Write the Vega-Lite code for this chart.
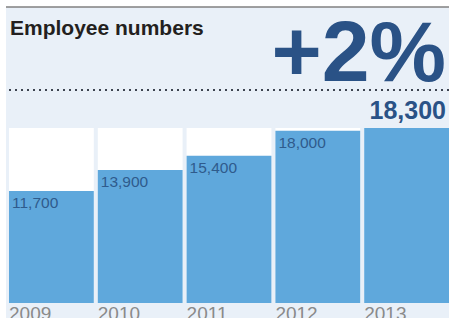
{
  "$schema": "https://vega.github.io/schema/vega-lite/v6.json",
  "width": 443,
  "height": 311,
  "autosize": "none",
  "padding": {"left": 6, "top": 7, "right": 0, "bottom": 0},
  "background": "white",
  "config": {"view": {"fill": "#e9f0f8", "stroke": null}, "font": "Liberation Sans"},
  "data": {"values": [
    {"year": "2009", "employees": 11700},
    {"year": "2010", "employees": 13900},
    {"year": "2011", "employees": 15400},
    {"year": "2012", "employees": 18000},
    {"year": "2013", "employees": 18300}
  ]},
  "layer": [
    {
      "transform": [{"joinaggregate": [{"op": "max", "field": "employees", "as": "peak"}]}],
      "mark": {"type": "bar", "color": "white"},
      "encoding": {
        "x": {"field": "year", "type": "nominal", "axis": null, "scale": {"paddingInner": 0.045, "paddingOuter": 0.0169, "align": 1}},
        "y": {"field": "peak", "type": "quantitative", "axis": null, "scale": {"domain": [-1570, 30950], "nice": false, "zero": false}},
        "y2": {"datum": 0}
      }
    },
    {
      "mark": {"type": "bar", "color": "#5fa8dc"},
      "encoding": {
        "x": {"field": "year", "type": "nominal"},
        "y": {"field": "employees", "type": "quantitative"},
        "y2": {"datum": 0}
      }
    },
    {
      "transform": [{"filter": "datum.year != '2013'"}],
      "mark": {"type": "text", "align": "left", "baseline": "alphabetic", "dx": 3, "dy": 17, "fontSize": 15.5, "color": "#2f5b8c"},
      "encoding": {
        "x": {"field": "year", "type": "nominal", "bandPosition": 0},
        "y": {"field": "employees", "type": "quantitative"},
        "text": {"field": "employees", "type": "quantitative", "format": ","}
      }
    },
    {
      "transform": [{"filter": "datum.year == '2013'"}],
      "mark": {"type": "text", "align": "right", "baseline": "alphabetic", "dx": -3, "dy": -9, "fontSize": 25, "fontWeight": "bold", "color": "#2a5286"},
      "encoding": {
        "x": {"field": "year", "type": "nominal", "bandPosition": 1},
        "y": {"field": "employees", "type": "quantitative"},
        "text": {"field": "employees", "type": "quantitative", "format": ","}
      }
    },
    {
      "mark": {"type": "text", "align": "left", "baseline": "top", "dy": 2, "fontSize": 19, "color": "#8a8a8a"},
      "encoding": {
        "x": {"field": "year", "type": "nominal", "bandPosition": 0},
        "y": {"datum": 0, "type": "quantitative"},
        "text": {"field": "year", "type": "nominal"}
      }
    },
    {
      "data": {"values": [{"headline": "Employee numbers", "change": "+2%"}]},
      "layer": [
        {
          "mark": {"type": "rule", "color": "#808080", "strokeWidth": 1.5},
          "encoding": {"y": {"datum": 30950, "type": "quantitative"}}
        },
        {
          "mark": {"type": "rule", "color": "#3d4450", "strokeWidth": 2, "strokeDash": [2, 4]},
          "encoding": {"y": {"datum": 22273, "type": "quantitative"}}
        },
        {
          "mark": {"type": "text", "align": "left", "baseline": "alphabetic", "dx": 1, "fontSize": 21, "fontWeight": "bold", "color": "#231f20"},
          "encoding": {
            "x": {"datum": "2009", "type": "nominal", "bandPosition": 0},
            "y": {"datum": 28025, "type": "quantitative"},
            "text": {"field": "headline", "type": "nominal"}
          }
        },
        {
          "mark": {"type": "text", "align": "right", "baseline": "alphabetic", "dx": -3, "fontSize": 86, "fontWeight": "bold", "color": "#2a5286"},
          "encoding": {
            "x": {"datum": "2013", "type": "nominal", "bandPosition": 1},
            "y": {"datum": 23214, "type": "quantitative"},
            "text": {"field": "change", "type": "nominal"}
          }
        }
      ]
    }
  ]
}
